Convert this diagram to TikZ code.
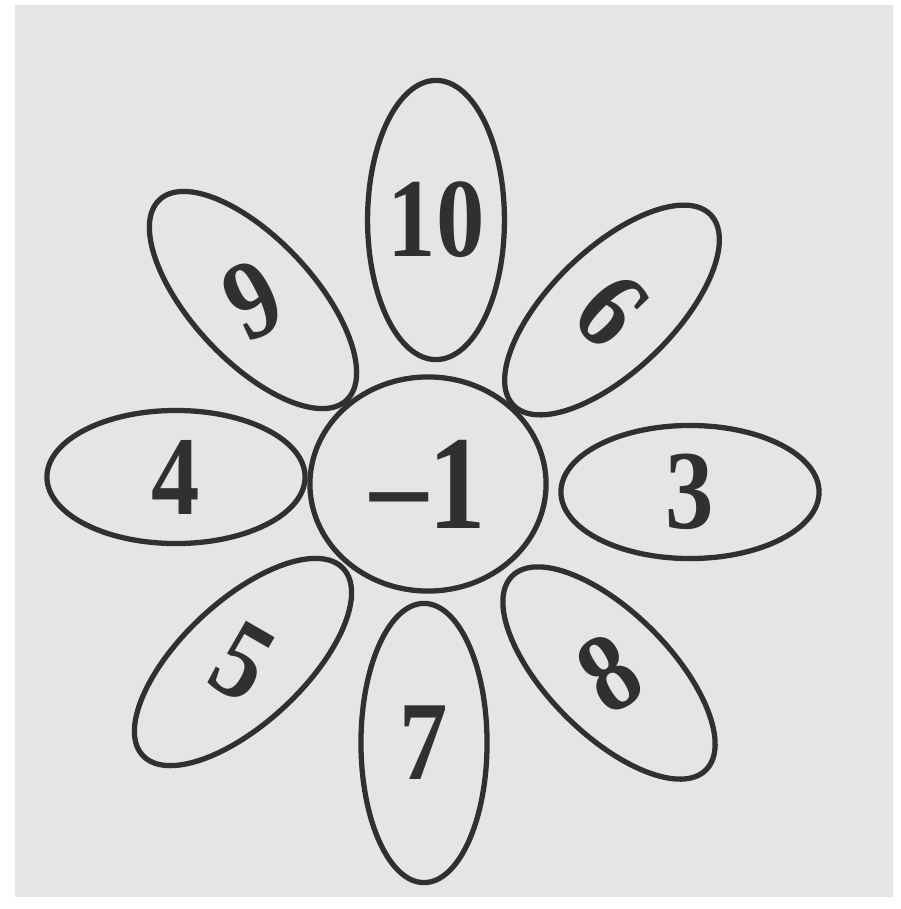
\documentclass[tikz,border=0pt]{standalone}
\usepackage{fontspec}
\setmainfont{Liberation Serif}
\newfontfamily\numfont[Ligatures=TeX, FakeStretch=0.86]{Liberation Serif}
\usetikzlibrary{shapes.geometric}
\definecolor{paper}{RGB}{229,229,229}
\definecolor{ink}{RGB}{48,48,48}
\tikzset{
  petal/.style={draw=ink, line width=1.5pt, ellipse, inner sep=0pt,
    minimum width=2.74cm, minimum height=1.22cm, text=ink,
    font=\numfont\fontsize{32}{32}\selectfont\bfseries},
  petalh/.style={petal, minimum width=2.58cm, minimum height=1.33cm},
  petalv/.style={petal, minimum width=1.26cm, minimum height=2.79cm},
  hub/.style={draw=ink, line width=1.5pt, ellipse, inner sep=0pt,
    minimum width=2.36cm, minimum height=2.14cm, text=ink,
    font=\numfont\fontsize{38}{38}\selectfont\bfseries},
}

\begin{document}
\begin{tikzpicture}[x=0.01cm, y=-0.01cm]

\useasboundingbox (0,0) rectangle (901,909);
\fill[paper] (15,5) rectangle (893,897);

%% ── Centre ───────────────────────────────────────────────────────────────
\node[hub] (hub) at (428,484) {--1};

%% ── Straight petals ──────────────────────────────────────────────────────
\node[petalv] (p10) at (436,220) {\raisebox{-0.1cm}{10}};
\node[petalv] (p7)  at (424,743) {\raisebox{-0.06cm}{7}};
\node[petalh] (p4)  at (176,477) {4};
\node[petalh] (p3)  at (690,492) {3};

%% ── Slanted petals ───────────────────────────────────────────────────────
\node[petal, rotate=-47] (p9) at (253,300) {\rotatebox{72}{9}};
\node[petal, rotate=44]  (p6) at (612,310) {\rotatebox{-90}{6}};
\node[petal, rotate=43]  (p5) at (243,662) {\rotatebox{-73}{5}};
\node[petal, rotate=-45] (p8) at (609,673) {\rotatebox{77}{8}};

\end{tikzpicture}
\end{document}
